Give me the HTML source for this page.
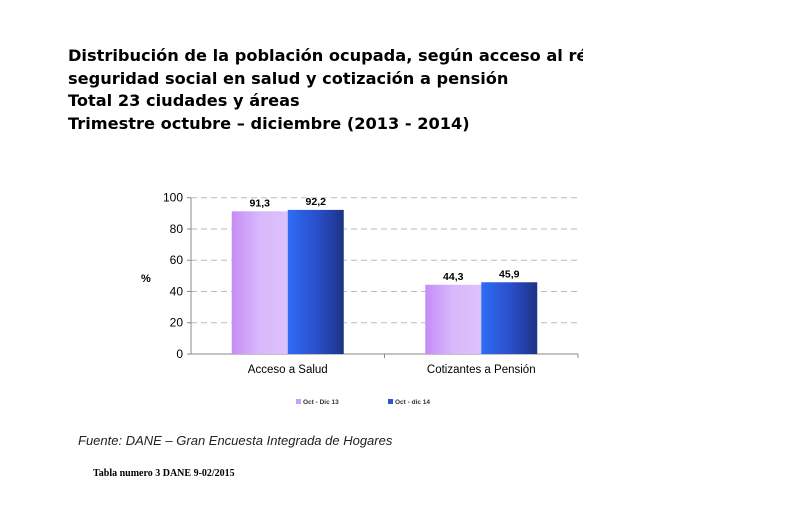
<!DOCTYPE html>
<html><head><meta charset="utf-8"><style>
body{margin:0;background:#fff;width:792px;height:506px;overflow:hidden;position:relative;font-family:"Liberation Sans",sans-serif}
.t{position:absolute;left:68px;width:515px;overflow:hidden;white-space:nowrap;font-family:"DejaVu Sans",sans-serif;font-weight:bold;font-size:16.2px;color:#000}
</style></head><body>
<div class="t" style="top:46px">Distribución de la población ocupada, según acceso al régimen de</div>
<div class="t" style="top:69px">seguridad social en salud y cotización a pensión</div>
<div class="t" style="top:91px">Total 23 ciudades y áreas</div>
<div class="t" style="top:114px">Trimestre octubre – diciembre (2013 - 2014)</div>
<svg id="c" width="792" height="506" style="position:absolute;left:0;top:0">
<defs>
<linearGradient id="g1" x1="0" x2="1"><stop offset="0" stop-color="#c58cf5"/><stop offset="0.5" stop-color="#d9b8fb"/><stop offset="1" stop-color="#dcc2fb"/></linearGradient>
<linearGradient id="g2" x1="0" x2="1"><stop offset="0" stop-color="#2f6cf6"/><stop offset="0.5" stop-color="#2a50cc"/><stop offset="1" stop-color="#1e3386"/></linearGradient>
</defs>
</svg>
<div style="position:absolute;left:78px;top:433px;font-style:italic;font-size:13px;color:#222">Fuente: DANE – Gran Encuesta Integrada de Hogares</div>
<div style="position:absolute;left:93px;top:468px;font-family:'Liberation Serif',serif;font-weight:bold;font-size:10px">Tabla numero 3 DANE 9-02/2015</div>
<script>
const categories=["Acceso a Salud","Cotizantes a Pensión"];
const series2013=[91.3,44.3];
const series2014=[92.2,45.9];
const seriesNames=["Oct - Dic 13","Oct - dic 14"];
const yTicks=[0,20,40,60,80,100];
const svg=document.getElementById('c');const NS='http://www.w3.org/2000/svg';
const X0=191,X1=578,Y0=354,Y100=197.7;
const y=v=>Y0-(v/100)*(Y0-Y100);
const band=(X1-X0)/categories.length;
function mk(t,a,txt){const e=document.createElementNS(NS,t);for(const k in a)e.setAttribute(k,a[k]);if(txt!=null)e.textContent=txt;svg.appendChild(e);return e;}
yTicks.forEach(v=>{
 if(v>0){const l=mk('line',{x1:X0,x2:X1,y1:y(v),y2:y(v),stroke:'#bbb','stroke-dasharray':'6,4'});}
 const tk=mk('line',{x1:X0-4,x2:X0,y1:y(v),y2:y(v),stroke:'#888'});
 const t=mk('text',{x:X0-8,y:y(v)+4,'text-anchor':'end','font-size':'12px',fill:'#000'},v);
});
const ya=mk('line',{x1:X0,x2:X0,y1:Y100,y2:Y0,stroke:'#888'});
const xa=mk('line',{x1:X0,x2:X1,y1:Y0,y2:Y0,stroke:'#888'});
const yt=mk('text',{x:141,y:282,'font-size':'11px','font-weight':'bold'},'%');
const bw=56;
categories.forEach((c,i)=>{
 const cx=X0+band*(i+0.5);
 const tk=mk('line',{x1:X0+band*(i+1),x2:X0+band*(i+1),y1:Y0,y2:Y0+4,stroke:'#888'});
 [[series2013,'url(#g1)',cx-bw],[series2014,'url(#g2)',cx]].forEach(([s,f,x],k)=>{
  const r=mk('rect',{x:x,y:y(s[i]),width:bw,height:Y0-y(s[i]),fill:f});
  const t=mk('text',{x:x+bw/2,y:y(s[i])-5,'text-anchor':'middle','font-size':'10.5px','font-weight':'bold'},s[i].toFixed(1).replace('.',','));
 });
 const l=mk('text',{x:cx,y:Y0+19,'text-anchor':'middle','font-size':'11.5px',fill:'#000'},c);
});
[[296,'#c9a0f8'],[388,'#2b55d8']].forEach(([x,col],k)=>{
 const r=mk('rect',{x:x,y:399,width:5,height:5,fill:col});
 const t=mk('text',{x:x+7,y:404,'font-size':'6.5px','font-weight':'bold',fill:'#333'},seriesNames[k]);
});
</script>
</body></html>
